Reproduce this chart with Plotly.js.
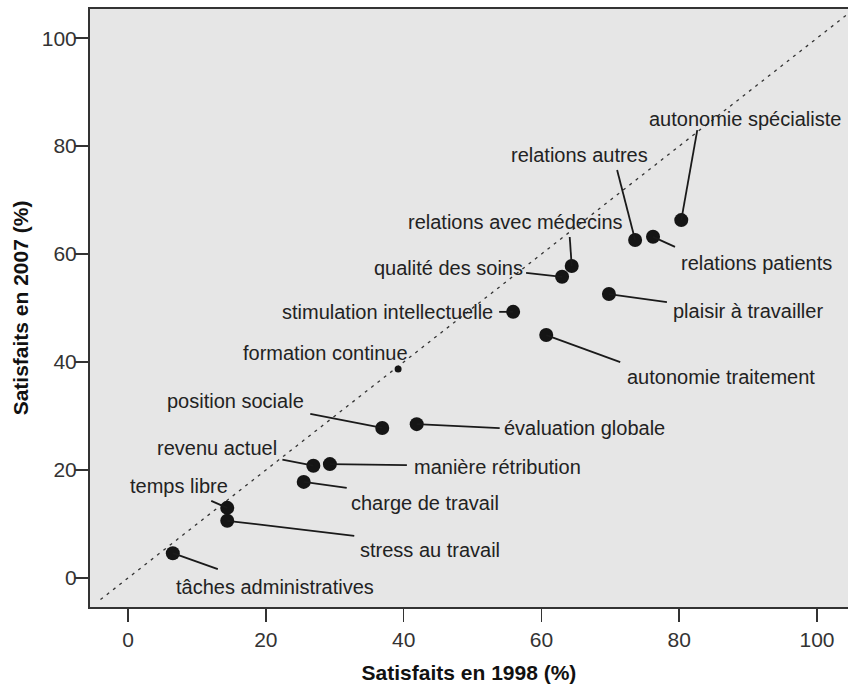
<!DOCTYPE html>
<html>
<head>
<meta charset="utf-8">
<script src="https://cdn.plot.ly/plotly-3.0.1.min.js"></script>
<style>
  html, body { margin: 0; padding: 0; background: #ffffff; }
  #chart { width: 848px; height: 687px; }
</style>
</head>
<body>
<div id="chart"></div>
<script>
// ---- Data ----
const categories = [
  "tâches administratives", "temps libre", "stress au travail", "charge de travail",
  "revenu actuel", "manière rétribution", "position sociale", "évaluation globale",
  "formation continue", "stimulation intellectuelle", "autonomie traitement",
  "qualité des soins", "relations avec médecins", "plaisir à travailler",
  "relations autres", "relations patients", "autonomie spécialiste"
];
const sat1998 = [6.5, 14.4, 14.4, 25.5, 26.9, 29.3, 36.9, 41.9, 39.2, 55.9, 60.7, 63.0, 64.4, 69.8, 73.6, 76.2, 80.3];
const sat2007 = [4.6, 13.0, 10.6, 17.8, 20.8, 21.1, 27.8, 28.5, 38.7, 49.3, 45.0, 55.8, 57.8, 52.6, 62.6, 63.2, 66.3];
const identityLine = [-4, 110];
const tickValues = [0, 20, 40, 60, 80, 100];
const tickLabels = ["0", "20", "40", "60", "80", "100"];

// ---- Label placement (pixel offsets from each point; +dy = down) ----
const labelDx     = [1, 3, 131, 45, -34, 82, -76, 85, 12, -18, 79, -37, 53, 62, 15, 26, 162];
const labelDy     = [34, -22, 29, 21, -18, 3, -27, 4, -16, 0, 42, -9, -44, 17, -85, 26, -101];
const labelAnchor = ["left", "right", "left", "left", "right", "left", "right", "left", "right", "right",
                     "left", "right", "right", "left", "right", "left", "right"];
const leaderDx    = [45, -16, 127, 43, -31, 77, -72, 83, null, -14, 74, -36, -2, 58, -18, 22, 16];
const leaderDy    = [16, -7, 15, 6, -6, 1, -14, 4, null, 0, 27, -4, -29, 8, -70, 10, -90];
const markerSizes = categories.map(c => c === "formation continue" ? 7 : 14);

const labelFont = { family: "Liberation Sans, Arial, sans-serif", size: 20, color: "#222222" };
const tickFont = { family: "Liberation Sans Narrow, Arial Narrow, Liberation Sans, sans-serif", size: 21, color: "#333333" };
const titleFont = { family: "Liberation Sans, Arial, sans-serif", size: 21, color: "#111111", weight: "bold" };

const traces = [
  {
    x: identityLine, y: identityLine, type: "scatter", mode: "lines",
    line: { color: "#333333", width: 1.3, dash: "3px,5px" },
    hoverinfo: "skip", showlegend: false
  },
  {
    x: sat1998, y: sat2007, text: categories, type: "scatter", mode: "markers",
    opacity: 1,
    marker: { color: "#151515", opacity: 1, size: markerSizes, line: { width: 0 } },
    showlegend: false, cliponaxis: false
  }
];

const shapes = [];
const annotations = [];
for (let i = 0; i < categories.length; i++) {
  if (leaderDx[i] !== null) {
    shapes.push({
      type: "line", xref: "x", yref: "y",
      xsizemode: "pixel", ysizemode: "pixel",
      xanchor: sat1998[i], yanchor: sat2007[i],
      x0: 0, y0: 0, x1: leaderDx[i], y1: -leaderDy[i],
      line: { color: "#1a1a1a", width: 1.8 }
    });
  }
  annotations.push({
    x: sat1998[i], y: sat2007[i], xref: "x", yref: "y",
    text: categories[i], showarrow: false,
    xanchor: labelAnchor[i], yanchor: "middle",
    xshift: labelDx[i], yshift: -labelDy[i],
    font: labelFont
  });
}

const layout = {
  width: 848, height: 687,
  margin: { l: 90, r: 0, t: 9, b: 80, pad: 0 },
  paper_bgcolor: "#ffffff",
  plot_bgcolor: "#e6e6e6",
  showlegend: false,
  xaxis: {
    range: [-5.52, 104.5],
    tickvals: tickValues, ticktext: tickLabels,
    ticks: "outside", ticklen: 13, tickwidth: 1.5, tickcolor: "#333333",
    tickfont: tickFont,
    showgrid: false, zeroline: false,
    showline: true, linecolor: "#333333", linewidth: 2, mirror: true,
    title: { text: "Satisfaits en 1998 (%)", font: titleFont, standoff: 15 },
    automargin: false
  },
  yaxis: {
    range: [-5.37, 105.4],
    tickvals: tickValues, ticktext: tickLabels,
    ticks: "outside", ticklen: 13, tickwidth: 1.5, tickcolor: "#333333",
    tickfont: tickFont, ticklabelstandoff: -6,
    showgrid: false, zeroline: false,
    showline: true, linecolor: "#333333", linewidth: 2,
    title: { text: "Satisfaits en 2007 (%)", font: titleFont, standoff: 7 },
    automargin: false
  },
  shapes: shapes,
  annotations: annotations
};

Plotly.newPlot("chart", traces, layout, { displayModeBar: false, staticPlot: true });
</script>
</body>
</html>
